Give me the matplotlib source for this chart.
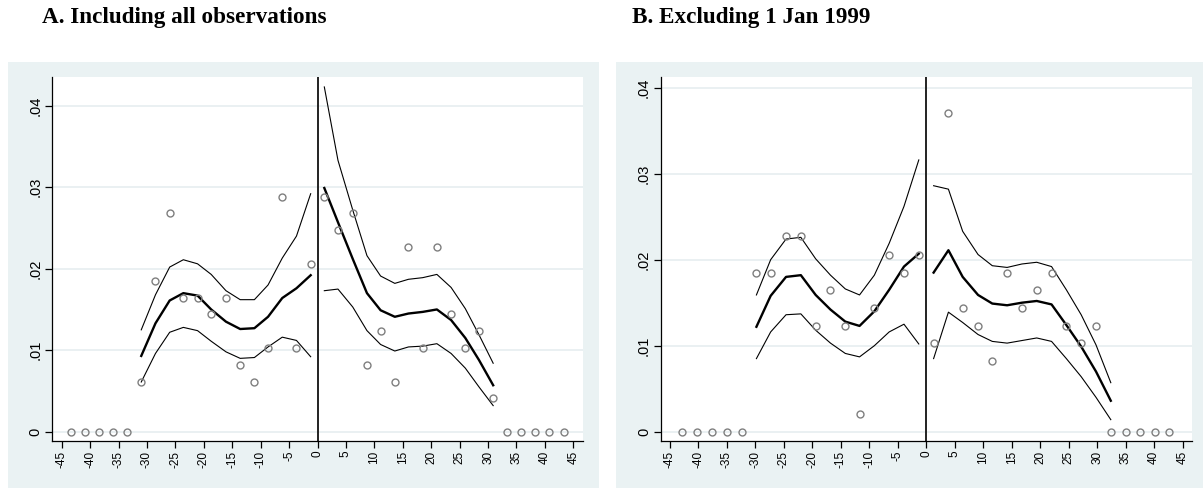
import matplotlib
matplotlib.use("Agg")
import matplotlib.pyplot as plt
from matplotlib.patches import Rectangle
import numpy as np

# ---------------- Data ----------------
# Panel A: Including all observations
A_left_x = [-43.3, -40.9, -38.4, -35.9, -33.5, -31.0, -28.5, -26.0, -23.6, -21.1,
            -18.7, -16.1, -13.6, -11.1, -8.7, -6.2, -3.7, -1.2]
A_left_y = [0, 0, 0, 0, 0, 0.0061, 0.0185, 0.0268, 0.0164, 0.0164,
            0.0144, 0.0164, 0.0082, 0.0061, 0.0103, 0.0288, 0.0103, 0.0206]
A_right_x = [1.2, 3.6, 6.2, 8.7, 11.1, 13.6, 16.0, 18.5, 21.0, 23.5,
             26.0, 28.4, 30.9, 33.4, 35.8, 38.3, 40.8, 43.3]
A_right_y = [0.0288, 0.0247, 0.0268, 0.0082, 0.0123, 0.0061, 0.0227, 0.0103, 0.0227, 0.0144,
             0.0103, 0.0123, 0.0041, 0, 0, 0, 0, 0]
A_left_fit = [0.0093, 0.0133, 0.0161, 0.0170, 0.0167, 0.0150, 0.0135, 0.0126, 0.0127, 0.0141, 0.0164, 0.0176, 0.0192]
A_left_hi = [0.0125, 0.0168, 0.0202, 0.0211, 0.0206, 0.0193, 0.0173, 0.0162, 0.0162, 0.0180, 0.0213, 0.0240, 0.0292]
A_left_lo = [0.0061, 0.0096, 0.0122, 0.0128, 0.0124, 0.0111, 0.0098, 0.0090, 0.0091, 0.0104, 0.0116, 0.0112, 0.0092]
A_right_fit = [0.0299, 0.0257, 0.0212, 0.0170, 0.0149, 0.0141, 0.0145, 0.0147, 0.0150, 0.0137, 0.0115, 0.0088, 0.0057]
A_right_hi = [0.0423, 0.0333, 0.0272, 0.0216, 0.0191, 0.0182, 0.0187, 0.0189, 0.0193, 0.0177, 0.0151, 0.0119, 0.0084]
A_right_lo = [0.0173, 0.0175, 0.0153, 0.0124, 0.0107, 0.0099, 0.0104, 0.0105, 0.0108, 0.0096, 0.0078, 0.0055, 0.0032]

# Panel B: Excluding 1 Jan 1999
B_left_x = [-42.8, -40.2, -37.6, -35.0, -32.4, -29.8, -27.3, -24.6, -22.0, -19.4,
            -16.8, -14.2, -11.7, -9.1, -6.5, -3.9, -1.3]
B_left_y = [0, 0, 0, 0, 0, 0.0185, 0.0185, 0.0227, 0.0227, 0.0123,
            0.0165, 0.0123, 0.0021, 0.0144, 0.0206, 0.0185, 0.0206]
B_right_x = [1.3, 3.9, 6.4, 9.1, 11.6, 14.2, 16.8, 19.4, 22.0, 24.6,
             27.2, 29.8, 32.4, 35.0, 37.5, 40.1, 42.7]
B_right_y = [0.0103, 0.0371, 0.0144, 0.0123, 0.0082, 0.0185, 0.0144, 0.0165, 0.0185, 0.0123,
             0.0103, 0.0123, 0, 0, 0, 0, 0]
B_left_fit = [0.0122, 0.0158, 0.0180, 0.0182, 0.0159, 0.0142, 0.0128, 0.0123, 0.0140, 0.0165, 0.0192, 0.0207]
B_left_hi = [0.0159, 0.0200, 0.0224, 0.0226, 0.0201, 0.0182, 0.0166, 0.0159, 0.0182, 0.0219, 0.0262, 0.0316]
B_left_lo = [0.0085, 0.0116, 0.0136, 0.0137, 0.0118, 0.0103, 0.0091, 0.0087, 0.0100, 0.0116, 0.0125, 0.0102]
B_right_fit = [0.0185, 0.0211, 0.0180, 0.0159, 0.0149, 0.0147, 0.0150, 0.0152, 0.0148, 0.0124, 0.0099, 0.0070, 0.0036]
B_right_hi = [0.0286, 0.0282, 0.0233, 0.0206, 0.0193, 0.0191, 0.0195, 0.0197, 0.0192, 0.0165, 0.0136, 0.0101, 0.0057]
B_right_lo = [0.0085, 0.0139, 0.0127, 0.0113, 0.0105, 0.0103, 0.0106, 0.0109, 0.0105, 0.0085, 0.0064, 0.0040, 0.0014]

x_ticks = list(range(-45, 50, 5))
y_ticks = [0, 0.01, 0.02, 0.03, 0.04]
y_tick_labels = ["0", ".01", ".02", ".03", ".04"]
titles = ["A. Including all observations", "B. Excluding 1 Jan 1999"]

# ---------------- Figure ----------------
W, H = 1203, 490
fig = plt.figure(figsize=(W / 100, H / 100), dpi=100, facecolor="white")

BG = "#EAF2F3"
GRID = "#E6EEF0"

def fx(px):
    return px / W

def fy(py):
    return 1 - py / H

# outer panel backgrounds
fig.patches.append(Rectangle((fx(8), fy(488)), fx(599) - fx(8), fy(62) - fy(488),
                             transform=fig.transFigure, facecolor=BG, edgecolor="none", zorder=-10))
fig.patches.append(Rectangle((fx(616), fy(488)), fx(1203) - fx(616), fy(62) - fy(488),
                             transform=fig.transFigure, facecolor=BG, edgecolor="none", zorder=-10))

axA = fig.add_axes([fx(52), fy(441), fx(583) - fx(52), fy(77) - fy(441)])
axB = fig.add_axes([fx(660.7), fy(441), fx(1191.7) - fx(660.7), fy(77) - fy(441)])
axA.set_zorder(1)
axB.set_zorder(1)

panels = [
    (axA, A_left_x, A_left_y, A_right_x, A_right_y, A_left_fit, A_left_hi, A_left_lo,
     A_right_fit, A_right_hi, A_right_lo, 5, 13, (-46.7, 46.7), (-0.00114, 0.04352)),
    (axB, B_left_x, B_left_y, B_right_x, B_right_y, B_left_fit, B_left_hi, B_left_lo,
     B_right_fit, B_right_hi, B_right_lo, 5, 13, (-46.6, 46.6), (-0.00108, 0.04124)),
]

for (ax, lx, ly, rx, ry, lf, lh, ll, rf, rh, rl, lstart, rend, xl, yl) in panels:
    ax.set_facecolor("white")
    for yt in y_ticks:
        ax.axhline(yt, color=GRID, lw=1.2, zorder=0)
    ax.axvline(0, color="#222222", lw=1.4, zorder=2)
    xs_l = lx[lstart:]
    xs_r = rx[:rend]
    ax.plot(xs_l, lf, color="black", lw=1.7, zorder=3)
    ax.plot(xs_l, lh, color="black", lw=0.8, zorder=3)
    ax.plot(xs_l, ll, color="black", lw=0.8, zorder=3)
    ax.plot(xs_r, rf, color="black", lw=1.7, zorder=3)
    ax.plot(xs_r, rh, color="black", lw=0.8, zorder=3)
    ax.plot(xs_r, rl, color="black", lw=0.8, zorder=3)
    ax.plot(lx, ly, linestyle="none", marker="o", markersize=5, markerfacecolor="none",
            markeredgecolor="#7f7f7f", markeredgewidth=1.0, zorder=4)
    ax.plot(rx, ry, linestyle="none", marker="o", markersize=5, markerfacecolor="none",
            markeredgecolor="#7f7f7f", markeredgewidth=1.0, zorder=4)
    ax.set_xlim(*xl)
    ax.set_ylim(*yl)
    ax.set_xticks(x_ticks)
    ax.set_xticklabels([str(t) for t in x_ticks], rotation=90, fontsize=8.5,
                       family=["Liberation Sans", "DejaVu Sans"])
    ax.set_yticks(y_ticks)
    ax.set_yticklabels(y_tick_labels, rotation=90, fontsize=10.5, va="center",
                       family=["Liberation Sans", "DejaVu Sans"])
    for s in ["top", "right"]:
        ax.spines[s].set_visible(False)
    for s in ["left", "bottom"]:
        ax.spines[s].set_color("black")
        ax.spines[s].set_linewidth(0.9)
    ax.tick_params(axis="both", direction="out", length=5, width=0.9, color="black", pad=2)

fig.text(fx(42), fy(17), titles[0], fontsize=16.7, fontweight="bold",
         family=["Liberation Serif", "DejaVu Serif"], va="center", ha="left")
fig.text(fx(632), fy(17), titles[1], fontsize=16.7, fontweight="bold",
         family=["Liberation Serif", "DejaVu Serif"], va="center", ha="left")

fig.savefig("out.png", dpi=100, facecolor="white")
